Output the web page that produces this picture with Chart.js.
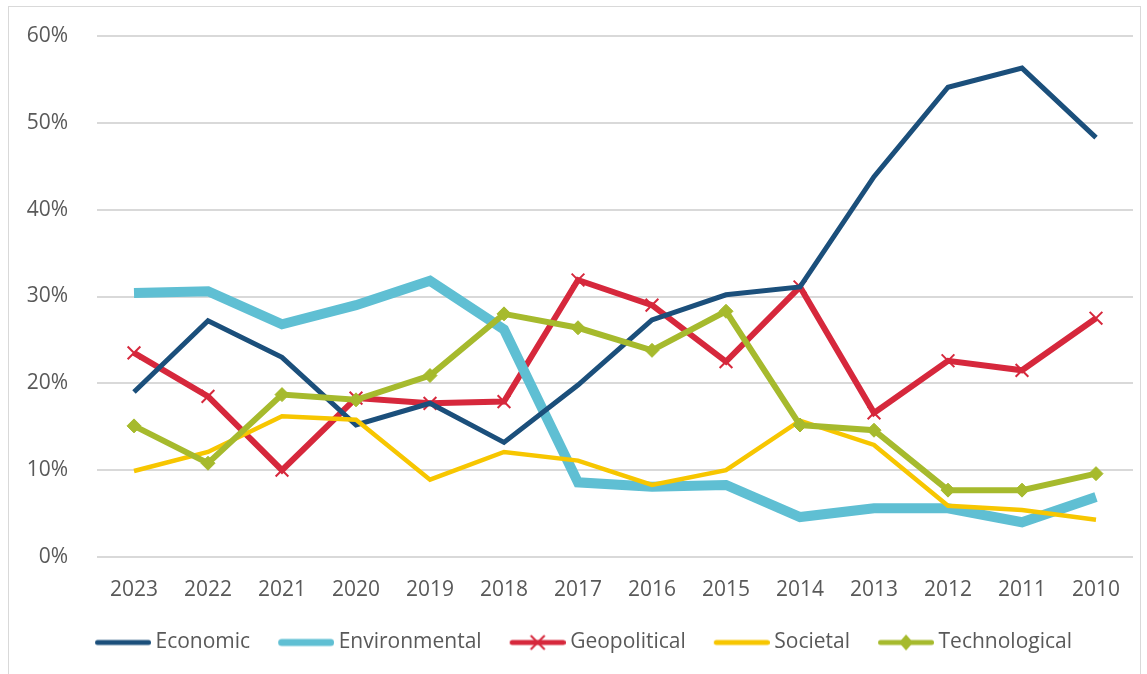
<!DOCTYPE html>
<html>
<head>
<meta charset="utf-8">
<script src="https://cdn.jsdelivr.net/npm/chart.js"></script>
<style>
  body { margin: 0; background: #fff; }
  #wrap { position: relative; width: 1147px; height: 674px; }
  #frame { position: absolute; left: 8px; top: 6px; width: 1131px; height: 668px; border: 1px solid #d9d9d9; border-bottom: none; }
</style>
</head>
<body>
<div id="wrap">
  <div id="frame"></div>
  <canvas id="riskChart"></canvas>
</div>
<script>
const years = ['2023', '2022', '2021', '2020', '2019', '2018', '2017', '2016', '2015', '2014', '2013', '2012', '2011', '2010'];
const economic      = [19.0, 27.2, 23.0, 15.2, 17.7, 13.2, 19.8, 27.3, 30.2, 31.1, 43.8, 54.1, 56.3, 48.3];
const environmental = [30.4, 30.6, 26.8, 29.0, 31.8, 26.2, 8.6, 8.1, 8.3, 4.6, 5.6, 5.6, 4.0, 6.9];
const geopolitical  = [23.5, 18.5, 10.0, 18.3, 17.7, 17.9, 31.9, 29.0, 22.5, 31.1, 16.6, 22.6, 21.5, 27.5];
const societal      = [9.9, 12.1, 16.2, 15.8, 8.9, 12.1, 11.1, 8.3, 10.0, 15.7, 12.9, 5.9, 5.4, 4.3];
const technological = [15.1, 10.8, 18.7, 18.1, 20.9, 28.0, 26.4, 23.8, 28.3, 15.2, 14.6, 7.7, 7.7, 9.6];
const yTicks = [0, 10, 20, 30, 40, 50, 60];

const FONT = "'Open Sans', 'Liberation Sans', sans-serif";
const TEXT = '#595959';
const BOX_W = 56, SHIFT = 6;

// legend swatch: a short line with the marker drawn on it
function swatch(color, lw, marker) {
    const c = document.createElement('canvas');
    c.width = BOX_W + 2 * SHIFT;
    c.height = 22;
    const g = c.getContext('2d');
    const cy = 11;
    g.strokeStyle = color;
    g.lineWidth = lw;
    g.lineCap = 'round';
    g.beginPath();
    g.moveTo(2 * SHIFT + lw / 2, cy);
    g.lineTo(c.width - lw / 2, cy);
    g.stroke();
    const cx = 2 * SHIFT + BOX_W / 2;
    if (marker === 'cross') {
        g.lineWidth = 2;
        g.lineCap = 'butt';
        g.beginPath();
        g.moveTo(cx - 7, cy - 7); g.lineTo(cx + 7, cy + 7);
        g.moveTo(cx + 7, cy - 7); g.lineTo(cx - 7, cy + 7);
        g.stroke();
    } else if (marker === 'diamond') {
        g.fillStyle = color;
        g.beginPath();
        g.moveTo(cx, cy - 8); g.lineTo(cx + 7, cy); g.lineTo(cx, cy + 8); g.lineTo(cx - 7, cy);
        g.closePath();
        g.fill();
    }
    return c;
}

const series = [
    { label: 'Economic', data: economic, color: '#1b4f7b', width: 5, legendW: 5 },
    { label: 'Environmental', data: environmental, color: '#5fbfd3', width: 10, legendW: 7 },
    { label: 'Geopolitical', data: geopolitical, color: '#d6283c', width: 6, legendW: 5, marker: 'cross' },
    { label: 'Societal', data: societal, color: '#f7c600', width: 4.5, legendW: 5 },
    { label: 'Technological', data: technological, color: '#a6ba2d', width: 6, legendW: 5, marker: 'diamond' }
];
const drawOrder = [3, 4, 5, 2, 1];

const datasets = series.map((s, i) => ({
    label: s.label,
    data: s.data,
    borderColor: s.color,
    backgroundColor: s.color,
    borderWidth: s.width,
    tension: 0,
    order: drawOrder[i],
    pointRadius: s.marker ? (s.marker === 'cross' ? 9 : 7) : 0,
    pointStyle: s.marker === 'cross' ? 'crossRot' : (s.marker === 'diamond' ? 'rectRot' : 'circle'),
    pointBorderWidth: s.marker === 'cross' ? 2 : 1,
    pointBackgroundColor: s.color,
    pointBorderColor: s.color
}));

// nudge the legend a bit to the right, like the original
const legendShift = {
    id: 'legendShift',
    afterLayout(chart) {
        chart.legend.left += 9;
        chart.legend.right += 9;
    }
};

new Chart(document.getElementById('riskChart'), {
    type: 'line',
    data: { labels: years, datasets: datasets },
    plugins: [legendShift],
    options: {
        responsive: true,
        maintainAspectRatio: false,
        animation: false,
        layout: { padding: { left: 10, right: 14, top: 36, bottom: 11 } },
        plugins: {
            tooltip: { enabled: false },
            legend: {
                position: 'bottom',
                labels: {
                    usePointStyle: true,
                    pointStyleWidth: BOX_W,
                    boxHeight: 21,
                    padding: 22,
                    color: TEXT,
                    font: { family: FONT, size: 21 },
                    generateLabels: () => series.map((s, i) => ({
                        text: s.label,
                        fontColor: TEXT,
                        pointStyle: swatch(s.color, s.legendW, s.marker),
                        lineWidth: 0,
                        datasetIndex: i
                    }))
                }
            }
        },
        scales: {
            x: {
                offset: true,
                grid: { display: false, drawTicks: false },
                border: { display: false },
                ticks: { color: TEXT, font: { family: FONT, size: 21 }, padding: 20, maxRotation: 0 },
                afterFit: (s) => { s.height = 53; }
            },
            y: {
                min: 0,
                max: 60,
                afterBuildTicks: (s) => { s.ticks = yTicks.map(v => ({ value: v })); },
                grid: { color: '#d9d9d9', lineWidth: 2, drawTicks: false },
                border: { display: false },
                ticks: { color: TEXT, font: { family: FONT, size: 21 }, padding: 29, callback: (v) => v + '%' },
                afterFit: (s) => { s.width = 87; s.paddingTop = 12; s.paddingBottom = 12; }
            }
        }
    }
});
</script>
</body>
</html>
